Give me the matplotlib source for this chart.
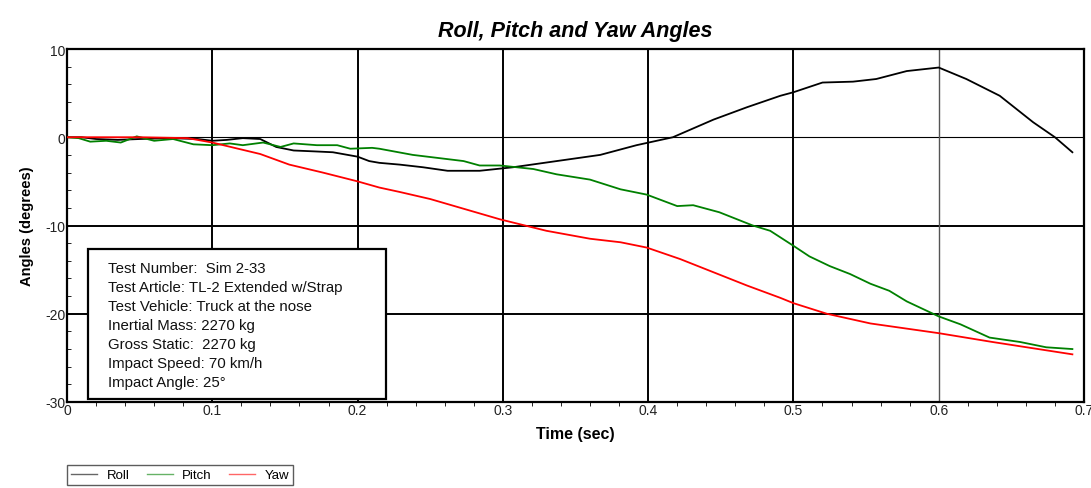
import matplotlib
matplotlib.use("Agg")
import matplotlib.pyplot as plt
from matplotlib.ticker import MultipleLocator

plt.rcParams["font.family"] = ["Liberation Sans", "DejaVu Sans"]
plt.rcParams["axes.unicode_minus"] = False

# values
roll_t = [0.0, 0.01, 0.02, 0.035, 0.05, 0.07, 0.09, 0.1, 0.11, 0.121, 0.133,
          0.144, 0.156, 0.17, 0.183, 0.2, 0.208, 0.215, 0.229, 0.245, 0.262,
          0.284, 0.307, 0.337, 0.367, 0.392, 0.417, 0.445, 0.468, 0.491, 0.5,
          0.52, 0.541, 0.557, 0.578, 0.6, 0.619, 0.642, 0.665, 0.68, 0.692]
roll = [0.0, 0.0, -0.2, -0.3, -0.2, -0.1, -0.2, -0.4, -0.3, -0.1, -0.2,
        -1.1, -1.5, -1.6, -1.7, -2.2, -2.7, -2.9, -3.1, -3.4, -3.8,
        -3.8, -3.4, -2.7, -2.0, -0.9, 0.0, 2.0, 3.4, 4.7, 5.1,
        6.2, 6.3, 6.6, 7.5, 7.9, 6.6, 4.7, 1.7, 0.0, -1.7]

pitch_t = [0.0, 0.008, 0.016, 0.027, 0.037, 0.048, 0.06, 0.073, 0.087, 0.1,
           0.112, 0.121, 0.135, 0.147, 0.156, 0.172, 0.186, 0.195, 0.21,
           0.215, 0.238, 0.273, 0.284, 0.298, 0.321, 0.337, 0.36, 0.381,
           0.399, 0.42, 0.431, 0.449, 0.472, 0.484, 0.5, 0.511, 0.525,
           0.539, 0.553, 0.566, 0.578, 0.6, 0.615, 0.635, 0.656, 0.674, 0.692]
pitch = [0.0, -0.1, -0.5, -0.4, -0.6, 0.1, -0.4, -0.2, -0.8, -0.9,
         -0.7, -0.9, -0.6, -1.1, -0.7, -0.9, -0.9, -1.3, -1.2,
         -1.3, -2.0, -2.7, -3.2, -3.2, -3.6, -4.2, -4.8, -5.9,
         -6.5, -7.8, -7.7, -8.5, -10.0, -10.6, -12.3, -13.5, -14.6,
         -15.5, -16.6, -17.4, -18.6, -20.3, -21.2, -22.7, -23.2, -23.8, -24.0]

yaw_t = [0.0, 0.02, 0.05, 0.083, 0.1, 0.133, 0.153, 0.176, 0.2, 0.215,
         0.229, 0.25, 0.298, 0.33, 0.36, 0.381, 0.399, 0.422, 0.445, 0.468,
         0.491, 0.5, 0.523, 0.553, 0.6, 0.637, 0.692]
yaw = [0.0, 0.0, 0.0, -0.1, -0.6, -1.9, -3.1, -4.0, -5.0, -5.7,
       -6.2, -7.0, -9.3, -10.6, -11.5, -11.9, -12.5, -13.8, -15.3, -16.8,
       -18.2, -18.8, -20.0, -21.1, -22.2, -23.2, -24.6]

info_lines = ["Test Number:  Sim 2-33",
              "Test Article: TL-2 Extended w/Strap",
              "Test Vehicle: Truck at the nose",
              "Inertial Mass: 2270 kg",
              "Gross Static:  2270 kg",
              "Impact Speed: 70 km/h",
              "Impact Angle: 25\u00b0"]

W, H = 1091, 489
fig = plt.figure(figsize=(W / 100, H / 100), dpi=100)
ax = fig.add_axes([67 / W, 1 - 403 / H, (1084 - 67) / W, (403 - 50) / H])

ax.set_xlim(0, 0.7)
ax.set_ylim(-30, 10)

# grid: heavy at -20/-10, light at 0
for gy in (-20, -10):
    ax.axhline(gy, color="black", lw=1.4, zorder=1)
ax.axhline(0, color="black", lw=0.8, zorder=1)
for gx in (0.1, 0.2, 0.3, 0.4, 0.5):
    ax.axvline(gx, color="black", lw=1.4, zorder=1)
ax.axvline(0.6, color="#555555", lw=1.0, zorder=1)

ax.plot(roll_t, roll, color="black", lw=1.3, label="Roll", zorder=3)
ax.plot(pitch_t, pitch, color="#008000", lw=1.3, label="Pitch", zorder=3)
ax.plot(yaw_t, yaw, color="#ff0000", lw=1.3, label="Yaw", zorder=3)

ax.xaxis.set_minor_locator(MultipleLocator(0.02))
ax.yaxis.set_major_locator(MultipleLocator(10))
ax.yaxis.set_minor_locator(MultipleLocator(2))
ax.set_xticks([0, 0.1, 0.2, 0.3, 0.4, 0.5, 0.6, 0.7])
ax.set_xticklabels(["0", "0.1", "0.2", "0.3", "0.4", "0.5", "0.6", "0.7"])
ax.tick_params(axis="both", which="major", labelsize=10, length=0, pad=1,
               labelcolor="#222222")
ax.tick_params(axis="x", which="minor", direction="out", length=3)
ax.tick_params(axis="y", which="minor", direction="in", length=3)
for s in ax.spines.values():
    s.set_linewidth(1.6)

ax.set_title("Roll, Pitch and Yaw Angles", fontsize=15.5, fontweight="bold",
             style="italic", pad=9)
ax.set_xlabel("Time (sec)", fontsize=11.5, fontweight="bold", labelpad=6)
ax.set_ylabel("Angles (degrees)", fontsize=10.5, fontweight="bold", labelpad=8)

# info box
box = plt.Rectangle((88 / W, 1 - 400 / H), (386 - 88) / W, (400 - 250) / H,
                    transform=fig.transFigure, facecolor="white",
                    edgecolor="black", lw=1.6, zorder=5)
fig.add_artist(box)
fig.text(108 / W, 1 - 262 / H, "\n".join(info_lines), fontsize=10.8,
         va="top", ha="left", linespacing=1.45, zorder=6, color="#111111")

leg = fig.legend(loc="upper left", bbox_to_anchor=(67 / W, 1 - 466 / H),
                 ncol=3, fontsize=9.5, frameon=True, fancybox=False,
                 handlelength=2.0, columnspacing=1.3, handletextpad=0.7,
                 borderpad=0.3, borderaxespad=0)
leg.get_frame().set_edgecolor("#333333")
leg.get_frame().set_linewidth(1.0)
for line in leg.get_lines():
    line.set_linewidth(1.0)
    line.set_alpha(0.6)

fig.savefig("out.png", dpi=100)
